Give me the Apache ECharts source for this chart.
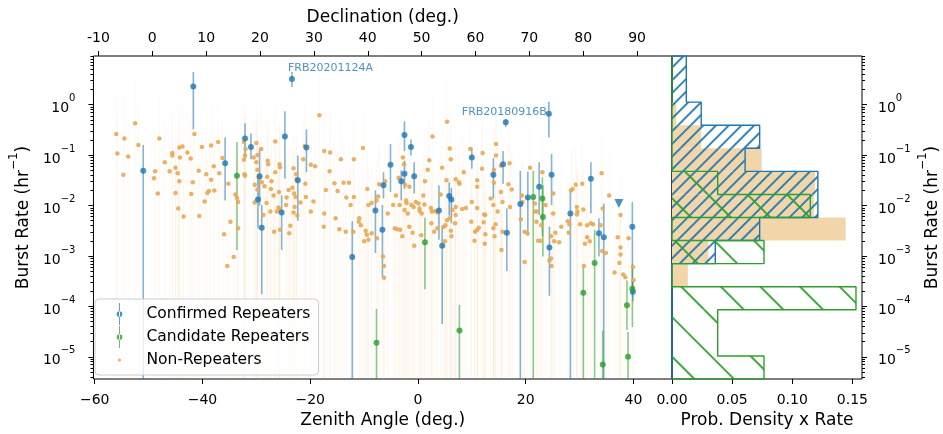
<!DOCTYPE html>
<html><head><meta charset="utf-8">
<script src="https://cdn.jsdelivr.net/npm/echarts@6/dist/echarts.min.js"></script>
<style>html,body{margin:0;padding:0;background:#fff}#c{width:943px;height:434px}</style>
</head><body><div id="c"></div>
<script>
const FONT = 'DejaVu Sans';

// ---------- axis ranges / ticks ----------
const zaMin = -60.24, zaMax = 47.16;          // zenith angle (deg.)
const decOffset = 49.32;                      // declination = zenith angle + site latitude
const logMin = -5.44, logMax = 0.965;         // log10 burst rate (hr^-1)
const histMax = 0.158;
const zaTicks = [-60, -40, -20, 0, 20, 40];
const decTicks = [-10, 0, 10, 20, 30, 40, 50, 60, 70, 80, 90];
const logTicks = [-5, -4, -3, -2, -1, 0];
const histTicks = [0, 0.05, 0.10, 0.15];

// ---------- Non-repeaters (zenith angle, log10 rate) ----------
const nonRepZA = [
-52.5,-56.0,-41.5,-54.5,-48.0,-51.9,-55.8,-53.8,-44.3,-43.7,-40.1,-38.4,-37.1,-42.8,-45.6,-45.6,-44.2,-42.2,-47.0,-36.3,
-37.9,-45.0,-46.1,-48.8,-44.6,-40.7,-36.9,-54.7,-49.0,-44.3,-41.8,-39.3,-38.4,-35.2,-48.3,-45.0,-42.1,-38.8,-39.1,-37.8,
-33.9,-33.6,-33.4,-44.5,-43.5,-39.6,-40.6,-32.3,-32.0,-32.1,-32.3,-32.2,-32.1,-30.5,-29.8,-30.0,-29.8,-29.5,-29.1,-30.0,
-30.3,-29.8,-30.3,-34.8,-33.4,-36.0,-34.2,-35.4,-28.7,
-18.3,-26.5,-27.9,-27.8,-25.7,-25.6,-26.5,-28.0,-27.2,-29.0,-28.5,-27.3,-25.8,-26.8,-28.1,-27.4,-25.7,-24.4,-24.0,-23.1,
-22.6,-22.5,-21.0,-21.3,-19.9,-19.1,-23.3,-23.0,-22.7,-21.8,-23.1,-20.9,-20.8,-17.4,-16.3,-16.4,-15.5,-14.3,-17.1,-14.9,
-13.8,-12.8,-13.3,-11.9,-11.9,-10.2,-12.5,-9.4,-9.2,-8.6,-7.4,-7.2,-6.1,-5.6,-4.6,-4.1,-3.6,-2.8,-2.6,-2.4,
-1.6,-2.1,-1.2,0.1,0.3,1.0,1.2,1.8,2.1,2.7,3.2,3.6,4.2,4.5,5.3,5.4,1.3,2.4,
-26.7,-25.9,-26.2,-25.6,-23.9,-23.7,-22.9,-22.4,-24.5,-19.9,-19.4,-17.4,-17.5,-15.3,-14.6,-13.4,-12.0,-10.9,-11.0,-10.6,
-9.7,-9.5,-10.0,-9.2,-7.7,-8.6,-7.6,-6.5,-6.3,-6.3,-4.3,-3.9,-3.3,-2.9,-3.4,-2.5,-1.9,-2.2,-0.4,-0.8,
0.3,0.7,-1.0,-0.7,0.6,2.6,2.5,3.0,3.6,4.8,5.1,5.9,6.1,-1.6,
5.9,6.1,9.7,12.0,14.5,14.5,15.4,17.0,11.0,11.0,11.9,14.1,14.1,8.5,7.6,7.7,7.0,16.8,17.4,15.4,
13.5,14.0,15.7,17.1,14.8,12.5,10.0,11.0,8.2,8.9,7.0,6.4,19.3,20.8,19.4,21.7,22.1,23.1,25.1,23.7,
25.1,28.4,28.7,29.3,29.5,30.5,29.6,30.7,34.1,35.5,34.3,37.6,
5.4,6.2,5.0,7.0,6.9,9.9,10.6,10.5,11.0,11.3,12.3,12.2,12.5,12.4,14.0,14.4,14.2,15.5,15.7,19.1,
19.8,20.3,19.8,21.7,22.3,22.8,22.0,22.9,24.7,25.5,25.3,26.2,24.7,24.4,24.8,26.6,27.8,28.1,28.0,29.5,
30.1,31.4,32.1,32.5,31.4,31.9,31.0,30.8,33.9,34.2,34.9,37.1,37.6,37.6,37.4,36.5,38.1,38.5,39.1,39.9,40.0
];
const nonRepLogRate = [
-0.37,-0.58,-0.58,-0.67,-0.67,-0.80,-0.97,-1.03,-0.85,-0.83,-0.84,-0.81,-0.74,-0.95,-0.96,-1.01,-1.05,-1.07,-1.14,-1.06,
-1.22,-1.25,-1.32,-1.32,-1.36,-1.31,-1.36,-1.39,-1.46,-1.52,-1.54,-1.38,-1.49,-1.57,-1.76,-1.75,-1.77,-1.71,-1.75,-1.70,
-1.78,-1.85,-1.93,-2.06,-2.22,-1.92,-2.21,-0.74,-0.88,-1.01,-1.09,-1.38,-1.41,-1.05,-1.00,-1.14,-1.29,-1.46,-0.88,-0.76,
-1.59,-1.68,-1.94,-2.32,-2.45,-2.57,-3.02,-3.20,-2.19,
-0.21,-0.73,-1.11,-1.18,-1.18,-1.24,-1.34,-1.43,-1.52,-1.54,-1.62,-1.67,-1.73,-1.80,-1.95,-2.12,-2.08,-1.84,-1.69,-1.26,
-1.38,-1.48,-0.82,-1.08,-1.19,-1.22,-1.65,-1.76,-1.83,-1.94,-2.14,-1.57,-1.83,-0.92,-0.95,-1.32,-1.56,-1.08,-1.69,-1.71,
-1.55,-1.55,-1.84,-1.83,-1.08,-0.86,-1.99,-1.67,-1.99,-1.95,-1.82,-1.58,-1.52,-2.16,-1.99,-1.80,-1.45,-1.05,-1.18,-1.59,
-1.63,-1.95,-1.99,-1.96,-2.11,-1.80,-1.98,-1.29,-1.10,-0.63,-2.11,-2.14,-1.78,-1.25,-1.50,-0.34,-1.52,-2.05,
-2.52,-2.04,-2.12,-2.48,-2.55,-2.40,-2.03,-2.20,-1.99,-2.12,-1.92,-2.16,-2.42,-2.25,-2.47,-2.52,-2.52,-2.25,-2.32,-2.39,
-2.50,-2.58,-2.71,-2.68,-1.90,-2.55,-2.65,-3.01,-3.20,-3.43,-2.45,-2.47,-2.48,-2.61,-1.99,-2.09,-2.16,-1.90,-1.93,-2.03,
-2.06,-2.16,-2.54,-2.80,-2.59,-2.12,-2.35,-2.52,-2.45,-2.42,-2.39,-2.25,-2.50,-2.42,
-0.87,-1.08,-0.88,-0.96,-0.78,-1.01,-1.21,-1.16,-1.50,-1.63,-1.27,-1.29,-1.55,-1.34,-1.54,-1.57,-1.48,-1.58,-1.68,-1.73,
-1.86,-1.99,-1.93,-2.03,-2.12,-2.19,-1.93,-2.05,-2.07,-2.05,-2.03,-2.09,-1.80,-1.25,-1.93,-1.96,-2.12,-1.34,-1.76,-1.99,
-2.16,-1.70,-1.67,-1.59,-2.03,-1.57,-2.12,-2.08,-1.36,-1.80,-2.06,-2.19,
-2.29,-2.61,-2.71,-2.19,-2.35,-2.32,-2.52,-2.70,-2.48,-2.44,-2.18,-2.33,-2.57,-2.76,-2.45,-2.37,-2.61,-2.88,-2.52,-2.27,
-2.52,-2.55,-3.12,-2.12,-2.70,-2.70,-2.32,-2.39,-2.61,-2.54,-2.71,-2.73,-3.05,-3.09,-3.20,-2.42,-2.31,-2.37,-2.54,-2.18,
-2.37,-2.39,-2.35,-2.37,-2.63,-2.71,-2.76,-3.20,-2.39,-2.90,-2.94,-2.63,-2.83,-2.97,-3.14,-3.33,-3.37,-3.42,-2.65,-3.22,-3.48
];
const nonRepErrUpDex = 0.8;     // typical (very faint) upper error bar extent; lower bars run off the axis

// ---------- Confirmed repeaters ----------
const BELOW = -7; // error bar runs past the bottom of the axis
const repZA      = [-41.7,-51.0,-35.8,-32.1,-31.0,-29.4,-29.7,-29.0,-23.4,-24.7,-20.7,-22.3,-25.3,-2.5,-1.3,-5.1,-2.5,-3.1,-0.7,-6.4,-7.9,3.9,4.5,-6.6,-12.2,5.8,6.2,16.3,24.3,10.0,15.8,14.0,24.8,32.1,22.5,20.4,19.0,28.3,39.8,16.5,24.4,33.6,34.5,39.9];
const repLogRate = [0.36,-1.31,-1.16,-0.67,-0.84,-1.42,-1.88,-2.44,0.51,-0.63,-0.85,-1.50,-2.14,-0.60,-0.84,-1.19,-1.37,-1.52,-1.42,-1.60,-2.10,-2.10,-2.80,-2.48,-3.02,-1.81,-1.88,-0.35,-0.18,-1.05,-1.18,-1.39,-1.39,-1.47,-1.63,-1.84,-1.97,-2.16,-2.42,-2.54,-2.83,-2.55,-2.63,-3.71];
const repLogHi   = [0.65,-0.80,-0.65,-0.37,-0.57,-0.88,-1.45,-1.99,0.65,-0.13,-0.49,-1.01,-1.80,-0.33,-0.69,-0.78,-1.11,-1.30,-1.14,-1.34,-1.70,-1.60,-2.39,-1.99,-2.31,-1.54,-1.65,-0.28,0.06,-0.85,-0.92,-1.06,-0.98,-1.14,-1.14,-1.33,-1.31,-1.73,-1.93,-2.06,-2.42,-2.25,-1.96,-3.50];
const repLogLo   = [-0.49,BELOW,-1.90,-1.08,-1.08,-2.00,-2.45,-3.76,0.35,-1.47,-1.34,-2.30,-2.88,-0.92,-1.01,-1.73,-1.67,-1.90,-1.76,-1.86,-2.94,-2.68,-4.35,-3.43,BELOW,-2.20,-2.35,-0.44,-0.65,-1.27,-1.57,-1.86,-1.99,-2.16,-2.19,-2.60,BELOW,BELOW,-3.76,-3.30,-3.79,-3.01,BELOW,-3.90];
const repNames   = {8: 'FRB20201124A', 28: 'FRB20180916B'};
const repLimitZA = [37.3];
const repLimitLogRate = [-1.96];

// ---------- Candidate repeaters ----------
const candZA      = [-33.6,-7.7,1.3,7.7,21.4,23.1,23.2,32.8,30.7,34.3,38.8,39.0,39.8];
const candLogRate = [-1.41,-4.72,-2.73,-4.48,-1.83,-1.86,-2.23,-3.14,-3.73,-5.15,-3.98,-5.00,-3.65];
const candLogHi   = [-0.74,-4.05,-2.24,-3.97,-1.31,-1.44,-1.60,-2.48,-3.20,-4.48,-3.48,-4.51,-3.17];
const candLogLo   = [-2.88,BELOW,-3.66,BELOW,BELOW,-2.60,-3.01,BELOW,BELOW,BELOW,-4.47,BELOW,-4.41];

// ---------- Right panel histograms (bins from bottom to top, 14 equal log bins) ----------
const histNonRep = [0,0,0,0,0.0132,0.0303,0.1444,0.118,0.119,0.0746,0.0243,0.0036,0,0];
const histRep    = [0,0,0,0,0,0.036,0.0729,0.1213,0.1213,0.0608,0.0729,0.0243,0.0119,0.0119];
const histCand   = [0.0765,0.038,0.038,0.153,0,0.0765,0,0.115,0.038,0,0,0,0,0];

// ---------- colours ----------
const C_REP = '#1f77b4', C_CAND = '#2ca02c', C_NON = '#e8a854', C_NON_FILL = '#f2d6aa';

// ---------- derived ----------
const nBins = histRep.length;
const binW = (logMax - logMin) / nBins;
const edges = Array.from({length: nBins + 1}, (_, i) => logMin + i * binW);
const binCats = edges.slice(0, nBins).map((e, i) => e.toFixed(2) + '..' + edges[i + 1].toFixed(2));
const minorLog = [];
for (let n = -6; n <= 0; n++) for (let k = 2; k <= 9; k++) { const v = n + Math.log10(k); if (v > logMin && v < logMax) minorLog.push(v); }

const MINUS = '\u2212';
const fmtMinus = v => (v < 0 ? MINUS : '') + Math.abs(v);
const fmtPow = v => '{b|10}{s|' + (v < 0 ? MINUS : '') + Math.abs(Math.round(v)) + '}';
const powRich = {
  b: {fontSize: 14, lineHeight: 22, verticalAlign: 'bottom', color: '#000', fontFamily: FONT},
  s: {fontSize: 10, lineHeight: 15, verticalAlign: 'top', color: '#000', fontFamily: FONT}
};
const nameRich = {
  b: {fontSize: 17, lineHeight: 24, verticalAlign: 'bottom', color: '#000', fontFamily: FONT},
  s: {fontSize: 12, lineHeight: 15, verticalAlign: 'top', color: '#000', fontFamily: FONT}
};
const tickStyle = {color: '#000', width: 1};
const lblStyle = {fontSize: 14, color: '#000', fontFamily: FONT};
const noLine = {show: false, onZero: false};

function stepOutline(vals) {
  const pts = [[0, edges[0]]];
  vals.forEach((v, i) => { pts.push([v, edges[i]]); pts.push([v, edges[i + 1]]); });
  pts.push([0, edges[nBins]]);
  return pts;
}
function errRender(color, width) {
  return function (params, api) {
    const x = api.value(0);
    const lo = Math.max(api.value(1), logMin), hi = Math.min(api.value(2), logMax);
    const p1 = api.coord([x, lo]), p2 = api.coord([x, hi]);
    return {type: 'line', shape: {x1: p1[0], y1: p1[1], x2: p2[0], y2: p2[1]}, style: {stroke: color, lineWidth: width}};
  };
}

const ICON_ERR = 'path://M4.6,0 L5.4,0 L5.4,20 L4.6,20 Z M2.4,10 A2.6,2.6 0 1,0 7.6,10 A2.6,2.6 0 1,0 2.4,10 Z';
const ICON_DOT = 'path://M0,0 M10,20 M3.6,10 A1.4,1.4 0 1,0 6.4,10 A1.4,1.4 0 1,0 3.6,10 Z';

const chart = echarts.init(document.getElementById('c'), null, {renderer: 'canvas'});
chart.setOption({
  animation: false,
  backgroundColor: '#fff',
  textStyle: {fontFamily: FONT},
  grid: [
    {left: 87, top: 56, width: 585, height: 326, show: true, borderColor: '#000', borderWidth: 1, backgroundColor: 'transparent'},
    {left: 672, top: 56, width: 190, height: 326, show: true, borderColor: '#000', borderWidth: 1, backgroundColor: 'transparent'}
  ],
  xAxis: [
    {type: 'value', gridIndex: 0, min: zaMin, max: zaMax, position: 'bottom',
     axisLine: noLine, splitLine: {show: false},
     axisTick: {customValues: zaTicks, length: 5, lineStyle: tickStyle},
     axisLabel: Object.assign({customValues: zaTicks, formatter: fmtMinus, margin: 14}, lblStyle),
     name: 'Zenith Angle (deg.)', nameLocation: 'middle', nameGap: 33,
     nameTextStyle: {fontSize: 17, color: '#000', fontFamily: FONT}},
    {type: 'value', gridIndex: 0, min: zaMin + decOffset, max: zaMax + decOffset, position: 'top',
     axisLine: noLine, splitLine: {show: false},
     axisTick: {customValues: decTicks, length: 5, lineStyle: tickStyle},
     axisLabel: Object.assign({customValues: decTicks, formatter: v => String(Math.round(v)), margin: 11}, lblStyle),
     name: 'Declination (deg.)', nameLocation: 'middle', nameGap: 30,
     nameTextStyle: {fontSize: 17, color: '#000', fontFamily: FONT}},
    {type: 'value', gridIndex: 1, min: 0, max: histMax, position: 'bottom',
     axisLine: noLine, splitLine: {show: false},
     axisTick: {customValues: histTicks, length: 5, lineStyle: tickStyle},
     axisLabel: Object.assign({customValues: histTicks, formatter: v => v.toFixed(2), margin: 14}, lblStyle),
     name: 'Prob. Density x Rate', nameLocation: 'middle', nameGap: 33,
     nameTextStyle: {fontSize: 17, color: '#000', fontFamily: FONT}}
  ],
  yAxis: [
    {type: 'value', gridIndex: 0, min: logMin, max: logMax, position: 'left',
     axisLine: noLine, splitLine: {show: false},
     axisTick: {customValues: logTicks, length: 5, lineStyle: tickStyle},
     axisLabel: {customValues: logTicks, formatter: fmtPow, rich: powRich, margin: 18},
     name: '{b|Burst Rate (hr}{s|' + MINUS + '1}{b|)}', nameLocation: 'middle', nameGap: 56, nameRotate: 90,
     nameTextStyle: {rich: nameRich}},
    {type: 'value', gridIndex: 0, min: logMin, max: logMax, position: 'left',
     axisLine: noLine, splitLine: {show: false}, axisLabel: {show: false},
     axisTick: {customValues: minorLog, length: 3, lineStyle: tickStyle}},
    {type: 'value', gridIndex: 1, min: logMin, max: logMax, position: 'right',
     axisLine: noLine, splitLine: {show: false},
     axisTick: {customValues: logTicks, length: 5, lineStyle: tickStyle},
     axisLabel: {customValues: logTicks, formatter: fmtPow, rich: powRich, margin: 16},
     name: '{b|Burst Rate (hr}{s|' + MINUS + '1}{b|)}', nameLocation: 'middle', nameGap: 55, nameRotate: 90,
     nameTextStyle: {rich: nameRich}},
    {type: 'value', gridIndex: 1, min: logMin, max: logMax, position: 'right',
     axisLine: noLine, splitLine: {show: false}, axisLabel: {show: false},
     axisTick: {customValues: minorLog, length: 3, lineStyle: tickStyle}},
    {type: 'category', gridIndex: 1, data: binCats, show: false, boundaryGap: true, axisLine: noLine}
  ],
  legend: {
    left: 95, top: 299, orient: 'vertical', padding: [4, 8, 4, 19], itemGap: 1,
    itemWidth: 44, itemHeight: 22, borderColor: '#cccccc', borderWidth: 1, borderRadius: 4,
    backgroundColor: 'rgba(255,255,255,0.8)', selectedMode: false,
    textStyle: {fontSize: 15.5, color: '#000', fontFamily: FONT, lineHeight: 18},
    data: [
      {name: 'Confirmed Repeaters', icon: ICON_ERR},
      {name: 'Candidate Repeaters', icon: ICON_ERR},
      {name: 'Non-Repeaters', icon: ICON_DOT}
    ]
  },
  series: [
    {type: 'custom', name: 'nonRepErr', xAxisIndex: 0, yAxisIndex: 0, silent: true,
     renderItem: errRender('rgba(232,168,84,0.06)', 1.2),
     dimensions: ['x', 'lo', 'hi'], encode: {x: 0, y: [1, 2]},
     data: nonRepZA.map((x, i) => [x, logMin, nonRepLogRate[i] + nonRepErrUpDex])},
    {type: 'scatter', name: 'Non-Repeaters', xAxisIndex: 0, yAxisIndex: 0, symbolSize: 4.5,
     itemStyle: {color: C_NON, opacity: 0.9},
     data: nonRepZA.map((x, i) => [x, nonRepLogRate[i]])},
    {type: 'custom', name: 'repErr', xAxisIndex: 0, yAxisIndex: 0, silent: true,
     renderItem: errRender('rgba(31,119,180,0.55)', 1.6),
     dimensions: ['x', 'lo', 'hi'], encode: {x: 0, y: [1, 2]},
     data: repZA.map((x, i) => [x, repLogLo[i], repLogHi[i]])},
    {type: 'custom', name: 'candErr', xAxisIndex: 0, yAxisIndex: 0, silent: true,
     renderItem: errRender('rgba(44,160,44,0.55)', 1.6),
     dimensions: ['x', 'lo', 'hi'], encode: {x: 0, y: [1, 2]},
     data: candZA.map((x, i) => [x, candLogLo[i], candLogHi[i]])},
    {type: 'scatter', name: 'Confirmed Repeaters', xAxisIndex: 0, yAxisIndex: 0, symbolSize: 6,
     itemStyle: {color: C_REP},
     data: repZA.map((x, i) => {
       const d = {value: [x, repLogRate[i]]};
       if (repNames[i]) {
         const left = repLogRate[i] < 0;
         d.label = left
           ? {show: true, formatter: repNames[i], position: [1, 1], align: 'right', verticalAlign: 'middle',
              color: C_REP, fontSize: 11, fontFamily: FONT}
           : {show: true, formatter: repNames[i], position: [-1, -2], align: 'left', verticalAlign: 'bottom',
              color: C_REP, fontSize: 11, fontFamily: FONT};
       }
       return d;
     })},
    {type: 'scatter', name: 'Confirmed Repeaters (upper limit)', xAxisIndex: 0, yAxisIndex: 0,
     symbol: 'triangle', symbolRotate: 180, symbolSize: 9, itemStyle: {color: C_REP},
     data: repLimitZA.map((x, i) => [x, repLimitLogRate[i]])},
    {type: 'scatter', name: 'Candidate Repeaters', xAxisIndex: 0, yAxisIndex: 0, symbolSize: 6,
     itemStyle: {color: C_CAND},
     data: candZA.map((x, i) => [x, candLogRate[i]])},
    {type: 'bar', name: 'histNonRep', xAxisIndex: 2, yAxisIndex: 4, barGap: '-100%', barCategoryGap: '0%',
     itemStyle: {color: C_NON_FILL}, silent: true, data: histNonRep},
    {type: 'bar', name: 'histRep', xAxisIndex: 2, yAxisIndex: 4, barGap: '-100%', barCategoryGap: '0%', silent: true,
     itemStyle: {color: 'rgba(0,0,0,0)',
       decal: {symbol: 'rect', symbolSize: 1, dashArrayX: [1, 0], dashArrayY: [1.3, 7], rotation: -Math.PI / 4,
               color: 'rgba(31,119,180,0.9)', backgroundColor: 'rgba(0,0,0,0)'}},
     data: histRep},
    {type: 'bar', name: 'histCand', xAxisIndex: 2, yAxisIndex: 4, barGap: '-100%', barCategoryGap: '0%', silent: true,
     itemStyle: {color: 'rgba(0,0,0,0)',
       decal: {symbol: 'rect', symbolSize: 1, dashArrayX: [1, 0], dashArrayY: [1.3, 26], rotation: Math.PI / 4,
               color: 'rgba(44,160,44,0.9)', backgroundColor: 'rgba(0,0,0,0)'}},
     data: histCand},
    {type: 'line', name: 'histRepOutline', xAxisIndex: 2, yAxisIndex: 2, symbol: 'none', silent: true,
     lineStyle: {color: C_REP, width: 1.4}, data: stepOutline(histRep)},
    {type: 'line', name: 'histCandOutline', xAxisIndex: 2, yAxisIndex: 2, symbol: 'none', silent: true,
     lineStyle: {color: C_CAND, width: 1.4}, data: stepOutline(histCand)}
  ]
});
</script>
</body></html>
